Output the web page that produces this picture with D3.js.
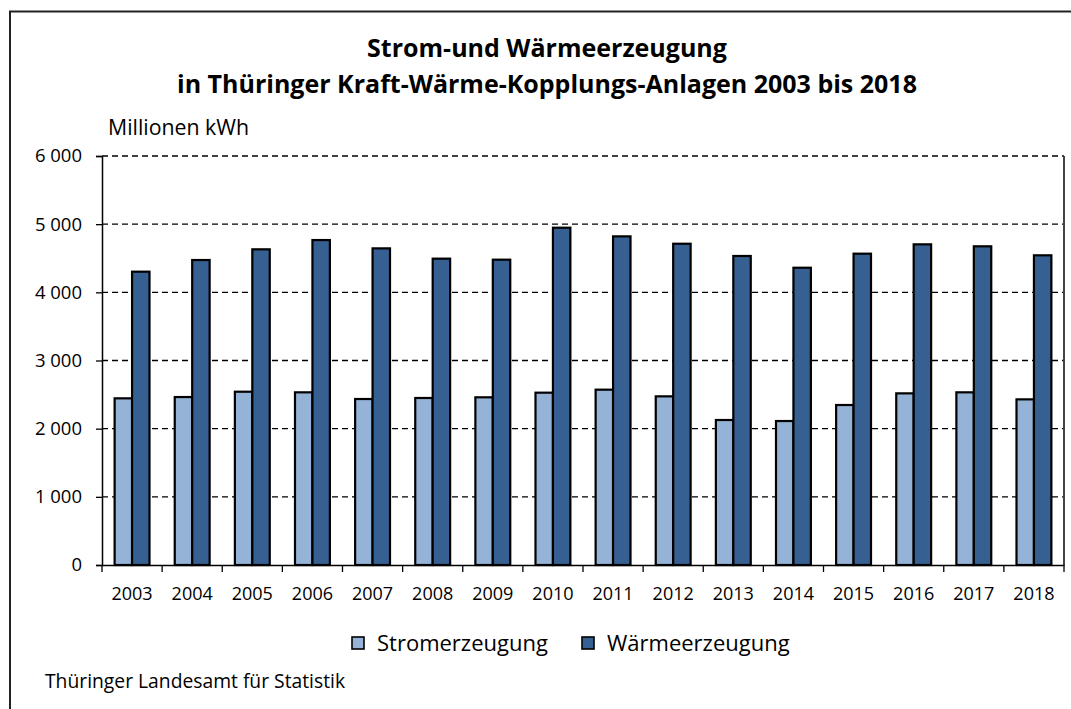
<!DOCTYPE html>
<html>
<head>
<meta charset="utf-8">
<script src="https://cdn.jsdelivr.net/npm/d3@7"></script>
<style>
  body { margin: 0; background: #fff; }
  svg text { font-family: "Open Sans", sans-serif; fill: #000; }
</style>
</head>
<body>
<div id="chart"></div>
<script>
// data
var years = ["2003","2004","2005","2006","2007","2008","2009","2010","2011","2012","2013","2014","2015","2016","2017","2018"];
var strom = [2445, 2464, 2542, 2533, 2435, 2450, 2460, 2528, 2572, 2474, 2127, 2112, 2347, 2518, 2533, 2430];
var waerme = [4303, 4474, 4631, 4767, 4645, 4494, 4479, 4948, 4821, 4713, 4533, 4361, 4567, 4704, 4675, 4543];
var seriesNames = ["Stromerzeugung", "Wärmeerzeugung"];
var yTicks = [0, 1000, 2000, 3000, 4000, 5000, 6000];

var COLOUR_STROM = "#95B3D7";
var COLOUR_WAERME = "#376092";

var W = 1071, H = 709;
var plotLeft = 102, plotRight = 1064, plotTop = 156, plotBottom = 565;

var svg = d3.select("#chart").append("svg")
  .attr("width", W).attr("height", H);

// outer frame
svg.append("rect")
  .attr("x", 10).attr("y", 11.5)
  .attr("width", W + 20).attr("height", H + 20)
  .attr("fill", "none").attr("stroke", "#222").attr("stroke-width", 2);

// title
svg.append("text").attr("x", 547).attr("y", 57)
  .attr("text-anchor", "middle").style("font-size", "25px").style("font-weight", "bold")
  .text("Strom-und Wärmeerzeugung");
svg.append("text").attr("x", 547).attr("y", 93)
  .attr("text-anchor", "middle").style("font-size", "25px").style("font-weight", "bold")
  .text("in Thüringer Kraft-Wärme-Kopplungs-Anlagen 2003 bis 2018");

svg.append("text").attr("x", 108).attr("y", 134.5)
  .style("font-size", "21.3px").text("Millionen kWh");

var x = d3.scaleBand().domain(years).range([plotLeft, plotRight]).padding(0);
var y = d3.scaleLinear().domain([0, 6000]).range([plotBottom, plotTop]);
var barW = x.bandwidth() * 0.29;

// grid
svg.append("g").selectAll("line")
  .data(yTicks.filter(function(d) { return d > 0; }))
  .enter().append("line")
  .attr("x1", plotLeft).attr("x2", plotRight)
  .attr("y1", function(d) { return y(d); }).attr("y2", function(d) { return y(d); })
  .attr("stroke", "#000").attr("stroke-width", 1.3).attr("stroke-dasharray", "6,4");

// right border of plot
svg.append("line").attr("x1", plotRight).attr("x2", plotRight).attr("y1", plotTop).attr("y2", plotBottom)
  .attr("stroke", "#444").attr("stroke-width", 2);

// bars
var g = svg.append("g");
g.selectAll("rect.strom").data(strom).enter().append("rect")
  .attr("class", "strom")
  .attr("x", function(d, i) { return x(years[i]) + x.bandwidth() / 2 - barW; })
  .attr("y", function(d) { return y(d); })
  .attr("width", barW)
  .attr("height", function(d) { return y(0) - y(d); })
  .attr("fill", COLOUR_STROM).attr("stroke", "#000").attr("stroke-width", 2.2);
g.selectAll("rect.waerme").data(waerme).enter().append("rect")
  .attr("class", "waerme")
  .attr("x", function(d, i) { return x(years[i]) + x.bandwidth() / 2; })
  .attr("y", function(d) { return y(d); })
  .attr("width", barW)
  .attr("height", function(d) { return y(0) - y(d); })
  .attr("fill", COLOUR_WAERME).attr("stroke", "#000").attr("stroke-width", 2.2);

// y axis
var yAxis = svg.append("g").attr("transform", "translate(" + plotLeft + ",0)")
  .call(d3.axisLeft(y).tickValues(yTicks).tickSize(6).tickPadding(14)
    .tickFormat(function(d) { return d3.format(",")(d).replace(",", " "); }));
yAxis.select(".domain").attr("stroke", "#000").attr("stroke-width", 1.5);
yAxis.selectAll(".tick line").attr("stroke", "#000").attr("stroke-width", 1.3);
yAxis.selectAll("text").style("font-size", "18.5px").attr("font-family", null);

// x axis
var xAxis = svg.append("g").attr("transform", "translate(0," + plotBottom + ")")
  .call(d3.axisBottom(x).tickSize(0).tickPadding(22));
xAxis.select(".domain").attr("stroke", "#000").attr("stroke-width", 1.5);
xAxis.selectAll("text").style("font-size", "18px").attr("font-family", null);
// tick marks at band boundaries
svg.append("g").selectAll("line")
  .data(years.concat(["end"]))
  .enter().append("line")
  .attr("x1", function(d, i) { return plotLeft + i * x.step(); })
  .attr("x2", function(d, i) { return plotLeft + i * x.step(); })
  .attr("y1", plotBottom).attr("y2", plotBottom + 7)
  .attr("stroke", "#000").attr("stroke-width", 1.3);

// legend
var legendX = [352, 582];
var legendColours = [COLOUR_STROM, COLOUR_WAERME];
var leg = svg.append("g");
leg.selectAll("rect").data(seriesNames).enter().append("rect")
  .attr("x", function(d, i) { return legendX[i]; })
  .attr("y", 637).attr("width", 12).attr("height", 12)
  .attr("fill", function(d, i) { return legendColours[i]; })
  .attr("stroke", "#000").attr("stroke-width", 1.6);
leg.selectAll("text").data(seriesNames).enter().append("text")
  .attr("x", function(d, i) { return legendX[i] + 25; })
  .attr("y", 651)
  .style("font-size", "22px")
  .text(function(d) { return d; });

// source
svg.append("text").attr("x", 45).attr("y", 688)
  .style("font-size", "19.3px").text("Thüringer Landesamt für Statistik");
</script>
</body>
</html>
